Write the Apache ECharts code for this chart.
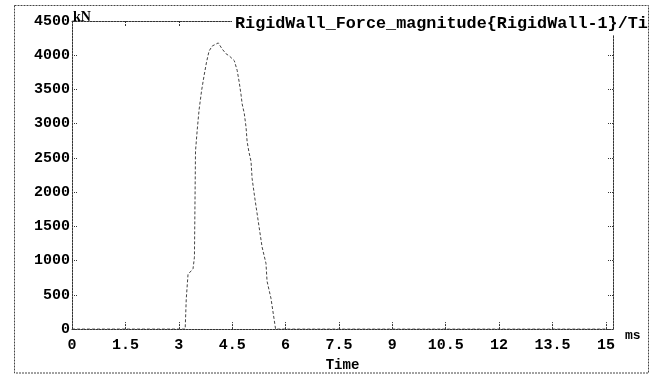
<!DOCTYPE html>
<html>
<head>
<meta charset="utf-8">
<style>
  html, body { margin: 0; padding: 0; background: #fff; }
  #chart { width: 660px; height: 377px; }
</style>
<script src="https://cdn.jsdelivr.net/npm/echarts@6/dist/echarts.min.js"></script>
</head>
<body>
<div id="chart"></div>
<script>
// Data
const times  = [0, 1.5, 3.0, 3.18, 3.21, 3.26, 3.40, 3.44, 3.47, 3.52, 3.57, 3.64, 3.71, 3.78, 3.85, 3.94, 4.11, 4.22, 4.33, 4.42, 4.56, 4.64, 4.70, 4.75, 4.78, 4.84, 4.89, 4.92, 4.97, 5.03, 5.06, 5.14, 5.26, 5.34, 5.45, 5.48, 5.59, 5.72, 7.5, 10.5, 13.5, 15];
const forces = [0, 0, 0, 0, 440, 800, 880, 1050, 2600, 2920, 3200, 3480, 3700, 3900, 4060, 4135, 4180, 4090, 4020, 3990, 3920, 3780, 3600, 3420, 3290, 3150, 2950, 2740, 2590, 2450, 2200, 1900, 1480, 1200, 960, 700, 450, 0, 0, 0, 0, 0];
const titleText = 'RigidWall_Force_magnitude{RigidWall-1}/Ti';
const xName = 'Time';
const xUnit = 'ms';
const yUnit = 'kN';

const seriesData = times.map((t, i) => [t, forces[i]]);
const mono = '"Liberation Mono", "DejaVu Sans Mono", monospace';
const frame = { show: true, onZero: false, lineStyle: { color: '#333', width: 1, type: [2, 1] } };

const chart = echarts.init(document.getElementById('chart'), null, { renderer: 'canvas' });
chart.setOption({
  animation: false,
  backgroundColor: '#fff',
  grid: { left: 72, top: 21, width: 541, height: 320, containLabel: false },
  xAxis: [{
    type: 'value', position: 'bottom', min: 0, max: 15.2, interval: 1.5,
    axisLine: frame,
    axisTick: { show: true, inside: true, length: 7, lineStyle: { color: '#333', type: [2, 1] } },
    splitLine: { show: false },
    axisLabel: { showMaxLabel: false, margin: 9, color: '#000', fontFamily: mono, fontWeight: 'bold', fontSize: 15 },
    name: xName, nameLocation: 'middle', nameGap: 28,
    nameTextStyle: { color: '#000', fontFamily: mono, fontWeight: 'bold', fontSize: 14 }
  }, {
    type: 'value', position: 'top', min: 0, max: 15.2, interval: 1.5,
    axisLine: frame,
    axisTick: { show: true, inside: true, length: 5, lineStyle: { color: '#333', type: [2, 1] } },
    axisLabel: { show: false }, splitLine: { show: false }
  }],
  yAxis: [{
    type: 'value', position: 'left', min: 0, max: 4500, interval: 500,
    axisLine: frame,
    axisTick: { show: true, inside: true, length: 5, lineStyle: { color: '#333', type: [1, 1] } },
    splitLine: { show: false },
    axisLabel: { margin: 2, color: '#000', fontFamily: mono, fontWeight: 'bold', fontSize: 15, padding: [0, 0, 5, 0],
      formatter: v => String(v) }
  }, {
    type: 'value', position: 'right', min: 0, max: 4500, interval: 500,
    axisLine: frame,
    axisTick: { show: true, inside: true, length: 6, lineStyle: { color: '#333', type: [1, 1] } },
    axisLabel: { show: false }, splitLine: { show: false }
  }],
  series: [{
    type: 'line',
    xAxisIndex: 0, yAxisIndex: 0,
    data: seriesData,
    showSymbol: false,
    lineStyle: { color: '#444', width: 1, type: [3, 2] }
  }],
  graphic: [
    {
      type: 'text', left: 232, top: 12, z: 50,
      style: {
        text: titleText, fill: '#000',
        font: 'bold 16.8px ' + mono,
        backgroundColor: '#fff', padding: [3, 3, 3, 3]
      }
    },
    {
      type: 'text', left: 73, top: 10, z: 50,
      style: { text: yUnit, fill: '#000', font: 'bold 14px "Liberation Serif", serif' }
    },
    {
      type: 'text', left: 625, top: 329, z: 50,
      style: { text: xUnit, fill: '#000', font: 'bold 13px ' + mono }
    },
    { type: 'rect', shape: { x: 649, y: 0, width: 11, height: 377 }, style: { fill: '#fff' }, z: 60 },
    {
      type: 'rect', z: 70,
      shape: { x: 14.5, y: 5.5, width: 634, height: 367.5 },
      style: { fill: 'none', stroke: '#444', lineWidth: 1, lineDash: [2, 1] }
    }
  ]
});
</script>
</body>
</html>
